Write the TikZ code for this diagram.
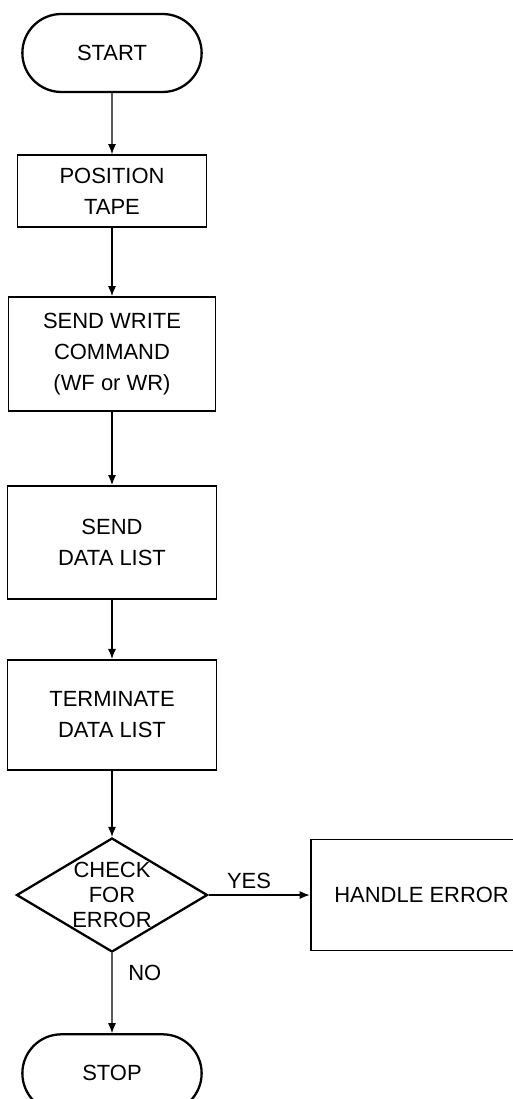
\documentclass[tikz,border=0pt]{standalone}
\usepackage{fontspec}
\setmainfont{Liberation Sans}
\usepackage{tikz}
\usetikzlibrary{shapes,arrows,positioning,calc,arrows.meta,shapes.misc,shapes.geometric}
\tikzset{%
  processBox/.style={%
    rectangle,
    draw=black,
    line width=1.1pt,
    minimum width=4.18cm,
    minimum height=2.24cm,
    align=center,
    font=\fontsize{12.5}{17.5}\selectfont
  },
  terminalBox/.style={%
    rounded rectangle,
    draw=black,
    line width=1.3pt,
    minimum width=3.82cm,
    minimum height=1.56cm,
    align=center,
    font=\fontsize{12.5}{17.5}\selectfont
  },
  decisionBox/.style={%
    diamond,
    draw=black,
    line width=1.3pt,
    inner sep=0pt,
    minimum width=3.82cm,
    minimum height=2.28cm
  },
  flowArrow/.style={%
    -{Latex[length=2mm,width=1.6mm]},
    line width=0.6pt,
    color=black
  }
}

\begin{document}
\begin{tikzpicture}
            \useasboundingbox (-2.24,1.06) rectangle (8.02,-20.92);

            \node[terminalBox] (start) {START};
            \node[processBox, minimum width=3.78cm, minimum height=1.44cm, below=1.22cm of start] (pos) {POSITION\\TAPE};
            \node[processBox, minimum width=4.14cm, minimum height=2.28cm, below=1.36cm of pos] (write) {SEND WRITE\\COMMAND\\(WF or WR)};
            \node[processBox, minimum height=2.26cm, below=1.46cm of write] (send) {SEND\\DATA LIST};
            \node[processBox, minimum height=2.2cm, below=1.18cm of send] (term) {TERMINATE\\DATA LIST};
            \node[decisionBox, below=1.32cm of term,
                  label={[align=center, font=\fontsize{12.5}{14}\selectfont]center:CHECK\\FOR\\ERROR}] (check) {};
            \node[processBox, minimum width=4.44cm, minimum height=2.22cm, right=2.02cm of check] (handle) {HANDLE ERROR};
            \node[terminalBox, below=1.6cm of check] (stop) {STOP};

            \draw[flowArrow] (start) -- (pos);
            \draw[flowArrow] (pos) -- (write);
            \draw[flowArrow] (write) -- (send);
            \draw[flowArrow] (send) -- (term);
            \draw[flowArrow] (term) -- (check);
            \draw[flowArrow] (check) -- node[above, pos=0.4, font=\fontsize{12.5}{15}\selectfont]{YES} (handle);
            \draw[flowArrow] (check) -- node[right, pos=0.25, xshift=0.2cm, font=\fontsize{12.5}{15}\selectfont]{NO} (stop);
        \end{tikzpicture}
\end{document}
